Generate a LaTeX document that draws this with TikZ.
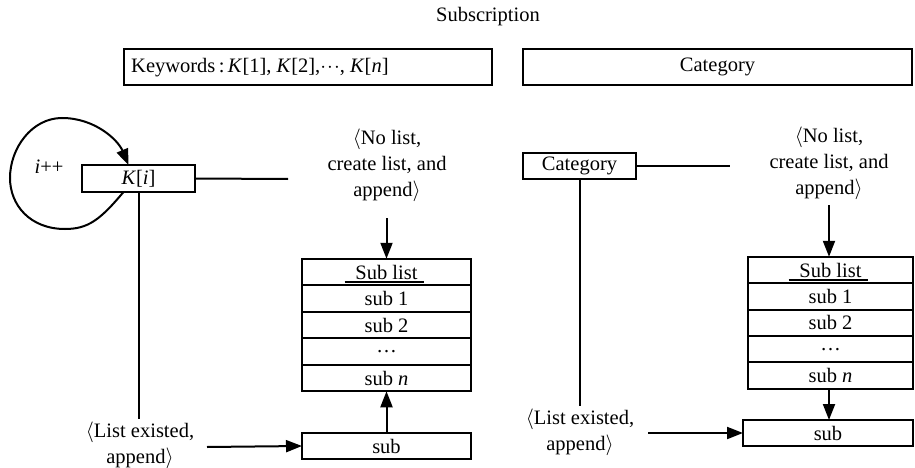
\documentclass[tikz,border=0pt]{standalone}
\usepackage{fontspec}
\setmainfont{Liberation Serif}
\usetikzlibrary{arrows.meta,calc}
\begin{document}
\begin{tikzpicture}[x=1pt,y=-1pt,
  every node/.style={font=\fontsize{20.5}{26}\selectfont},
  box/.style={draw,line width=2pt,rectangle,inner sep=0pt,outer sep=0pt,minimum height=#1},
  box/.default=26pt,
  lbl/.style={align=center,inner sep=0pt},
  ln/.style={line width=2pt},
  arr/.style={line width=2pt,-{Triangle[length=16pt,width=12pt]}}]
\useasboundingbox (0,0) rectangle (915,468);
\node[inner sep=0pt] (title) at (488,17) {Subscription};
\node[box=36pt,minimum width=368pt] (kw) at (308,67) {};
\node[inner sep=0pt,anchor=west] (kwt) at (131,68) {Keywords\,:\,\textit{K}[1], \textit{K}[2],$\cdot\!\cdot\!\cdot$, \textit{K}[\textit{n}]};
\node[box=36pt,minimum width=389pt] (cattop) at (717.5,67) {Category};
% left side
\node[box=27pt,minimum width=113pt] (ki) at (138.5,178.5) {\textit{K}[\textit{i}]};
\node[inner sep=0pt] (ipp) at (49,167) {\textit{i}++};
\draw[arr] ($(ki.south)+(-15,0)$) .. controls (100,220) and (88,229) .. (65,229)
  .. controls (30,229) and (10,205) .. (10,178)
  .. controls (10,148) and (32,118) .. (62,118)
  .. controls (95,118) and (118,140) .. ($(ki.north)+(-10,0)$);
\node[lbl] (nl1) at (387,165) {$\langle$No list,\\create list, and\\append$\rangle$};
\coordinate (e1) at (288,179);
\draw[ln] (ki.east) -- (e1);
\coordinate (a1) at (386.5,218);
\node[box=26.5pt,minimum width=169pt] (L0) at (386.5,272) {Sub list};
\node[box=26.5pt,minimum width=169pt] (L1) at (386.5,298.5) {sub 1};
\node[box=26.5pt,minimum width=169pt] (L2) at (386.5,325) {sub 2};
\node[box=26.5pt,minimum width=169pt] (L3) at (386.5,351.5) {\dots};
\node[box=26.5pt,minimum width=169pt] (L4) at (386.5,378) {sub \textit{n}};
\draw[ln] ($(L0.center)+(-42,10)$) -- ($(L0.center)+(37,10)$);
\draw[arr] (a1) -- (L0.north);
\node[box=26pt,minimum width=169pt] (S1) at (386.5,446) {sub};
\draw[arr] (S1.north) -- (L4.south);
\node[lbl] (le1) at (140,445) {$\langle$List existed,\\append$\rangle$};
\coordinate (v1) at (138.5,419);
\draw[ln] (ki.south) -- (v1);
\coordinate (b1) at (207,447);
\draw[arr] (b1) -- (S1.west);
% right side
\node[box=26pt,minimum width=113pt] (cat) at (579.5,166) {Category};
\node[lbl] (nl2) at (829,163) {$\langle$No list,\\create list, and\\append$\rangle$};
\coordinate (e2) at (730,166);
\draw[ln] (cat.east) -- (e2);
\coordinate (a2) at (829,205);
\node[box=26.4pt,minimum width=165pt] (R0) at (830.5,270) {Sub list};
\node[box=26.4pt,minimum width=165pt] (R1) at (830.5,296.4) {sub 1};
\node[box=26.4pt,minimum width=165pt] (R2) at (830.5,322.8) {sub 2};
\node[box=26.4pt,minimum width=165pt] (R3) at (830.5,349.2) {\dots};
\node[box=26.4pt,minimum width=165pt] (R4) at (830.5,375.6) {sub \textit{n}};
\draw[ln] ($(R0.center)+(-42,10)$) -- ($(R0.center)+(37,10)$);
\draw[arr] (a2) -- (R0.north -| a2);
\node[box=26pt,minimum width=170pt] (S2) at (828,433) {sub};
\draw[arr] (R4.south -| a2) -- (S2.north -| a2);
\node[lbl] (le2) at (580,432) {$\langle$List existed,\\append$\rangle$};
\coordinate (v2) at (579.5,406);
\draw[ln] (cat.south) -- (v2);
\coordinate (b2) at (648,433);
\draw[arr] (b2) -- (S2.west);
\end{tikzpicture}
\end{document}
